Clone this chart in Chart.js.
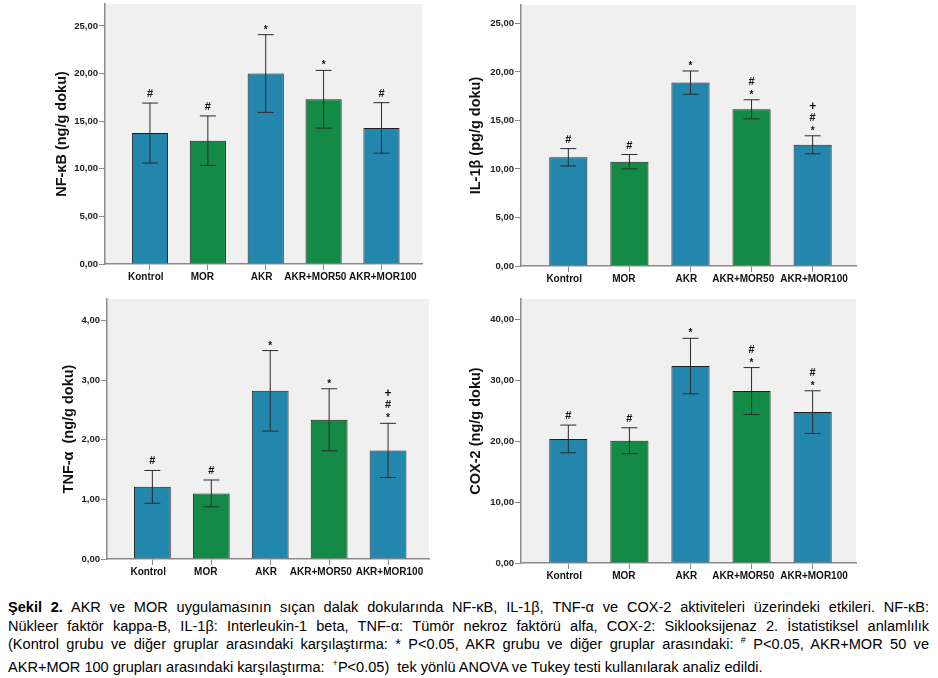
<!DOCTYPE html>
<html><head><meta charset="utf-8">
<script src="https://cdn.jsdelivr.net/npm/chart.js@4.4.1/dist/chart.umd.min.js"></script>
<style>
body{margin:0;background:#fff;width:938px;height:678px;position:relative;overflow:hidden}
canvas{position:absolute}
.cap{position:absolute;left:8px;width:921px;font-family:"Liberation Sans",Arial,sans-serif;font-size:14.55px;line-height:16px;color:#000;white-space:nowrap}
.j{text-align:justify;text-align-last:justify}
sup{font-size:9px;vertical-align:6px;line-height:0}
</style></head><body>

<div class="cap j" style="top:599px"><b>Şekil 2.</b> AKR ve MOR uygulamasının sıçan dalak dokularında NF-κB, IL-1β, TNF-α ve COX-2 aktiviteleri üzerindeki etkileri. NF-κB:</div>
<div class="cap j" style="top:618px">Nükleer faktör kappa-B, IL-1β: Interleukin-1 beta, TNF-α: Tümör nekroz faktörü alfa, COX-2: Siklooksijenaz 2. İstatistiksel anlamlılık</div>
<div class="cap j" style="top:636px">(Kontrol grubu ve diğer gruplar arasındaki karşılaştırma: * P&lt;0.05, AKR grubu ve diğer gruplar arasındaki: <sup>#</sup> P&lt;0.05, AKR+MOR 50 ve</div>
<div class="cap" style="top:659px">AKR+MOR 100 grupları arasındaki karşılaştırma: &nbsp;<sup>+</sup>P&lt;0.05) &nbsp;tek yönlü ANOVA ve Tukey testi kullanılarak analiz edildi.</div>

<script>
// ---- data ----
const categories = ['Kontrol', 'MOR', 'AKR', 'AKR+MOR50', 'AKR+MOR100'];

const nfkbMean = [13.75, 12.95, 20.0, 17.3, 14.29];
const nfkbSd   = [3.15, 2.6, 4.08, 3.03, 2.65];
const nfkbMarks = [['#'], ['#'], ['*'], ['*'], ['#']];
const nfkbTicks = [0, 5, 10, 15, 20, 25];

const il1bMean = [11.2, 10.75, 18.9, 16.15, 12.49];
const il1bSd   = [0.9, 0.74, 1.2, 0.98, 0.93];
const il1bMarks = [['#'], ['#'], ['*'], ['#', '*'], ['+', '#', '*']];
const il1bTicks = [0, 5, 10, 15, 20, 25];

const tnfMean = [1.21, 1.1, 2.82, 2.335, 1.82];
const tnfSd   = [0.275, 0.225, 0.675, 0.52, 0.455];
const tnfMarks = [['#'], ['#'], ['*'], ['*'], ['+', '#', '*']];
const tnfTicks = [0, 1, 2, 3, 4];

const coxMean = [20.35, 20.05, 32.3, 28.2, 24.75];
const coxSd   = [2.27, 2.13, 4.55, 3.85, 3.5];
const coxMarks = [['#'], ['#'], ['*'], ['#', '*'], ['#', '*']];
const coxTicks = [0, 10, 20, 30, 40];

// ---- styles ----
const BLUE = '#2387ad', GREEN = '#138a46';
const barColors = categories.map((c, i) => i % 2 === 0 ? BLUE : GREEN);
const AXIS = '#8a8a8a';
const TITLE_SIZE = 14.5;
const FONT = '"Liberation Sans", Arial, sans-serif';
// label nudge (in spaces): negative = trailing spaces (shift left), positive = leading spaces
const labelNudge = [-3, -4, -3, -6, 1];

function fmt(v) { return v.toFixed(2).replace('.', ','); }
function nudged(i) {
  const n = labelNudge[i], s = ' '.repeat(Math.abs(n));
  return n < 0 ? categories[i] + s : s + categories[i];
}

function makeChart(p) {
  const [cl, ct, cw, ch] = p.canvas;
  const [al, at, ar, ab] = p.area;
  const cv = document.createElement('canvas');
  cv.width = cw; cv.height = ch;
  cv.style.left = cl + 'px'; cv.style.top = ct + 'px';
  cv.style.width = cw + 'px'; cv.style.height = ch + 'px';
  document.body.appendChild(cv);
  const padLeft = p.titleX - cl - TITLE_SIZE * 0.6;
  const yAxisW = al - cl - padLeft;
  const xAxisH = ct + ch - ab;

  const bgPlugin = {
    id: 'bg',
    beforeDraw(chart) {
      const a = chart.chartArea, c = chart.ctx;
      c.save(); c.fillStyle = '#f0f0f0';
      c.fillRect(a.left, a.top, a.right - a.left, a.bottom - a.top);
      c.restore();
    }
  };
  const errPlugin = {
    id: 'err',
    afterDatasetsDraw(chart) {
      const c = chart.ctx, xs = chart.scales.x, ys = chart.scales.y;
      c.save();
      p.mean.forEach((m, i) => {
        const x = xs.getPixelForValue(i);
        const yt = ys.getPixelForValue(m + p.sd[i]);
        const yb = ys.getPixelForValue(m - p.sd[i]);
        c.strokeStyle = '#2a2a2a'; c.lineWidth = 1;
        c.beginPath();
        c.moveTo(x, yt); c.lineTo(x, yb);
        c.moveTo(x - 8, yt); c.lineTo(x + 8, yt);
        c.moveTo(x - 8, yb); c.lineTo(x + 8, yb);
        c.stroke();
        // significance marks
        const marks = p.marks[i];
        let yc = yt - (marks[marks.length - 1] === '*' ? 7.5 : 10);
        c.fillStyle = '#111';
        c.textAlign = 'center';
        c.textBaseline = 'alphabetic';
        for (let k = marks.length - 1; k >= 0; k--) {
          const t = marks[k];
          const size = t === '*' ? 10 : (t === '+' ? 12 : 11);
          c.font = 'bold ' + size + 'px ' + FONT;
          const mt = c.measureText(t);
          const asc = mt.actualBoundingBoxAscent, desc = mt.actualBoundingBoxDescent;
          c.fillText(t, x, yc + (asc - desc) / 2);
          yc -= 11.5;
        }
      });
      c.restore();
    }
  };

  return new Chart(cv, {
    type: 'bar',
    data: {
      datasets: [{
        data: p.mean.map((v, i) => ({ x: i, y: v })),
        backgroundColor: barColors,
        borderColor: '#1e1e1e',
        borderWidth: 1,
        barPercentage: 0.625,
        categoryPercentage: 1
      }]
    },
    options: {
      responsive: false,
      animation: false,
      layout: { padding: { left: padLeft, top: at - ct, right: cl + cw - ar, bottom: 0 } },
      plugins: { legend: { display: false }, tooltip: { enabled: false } },
      scales: {
        x: {
          type: 'linear',
          offset: false,
          bounds: 'data',
          min: p.xr[0], max: p.xr[1],
          afterBuildTicks: s => { s.ticks = categories.map((c, i) => ({ value: i })); },
          afterFit: s => { s.height = xAxisH; s.paddingLeft = 0; s.paddingRight = 0; },
          ticks: {
            callback: v => nudged(v),
            autoSkip: false, maxRotation: 0, padding: 1,
            color: '#111',
            font: { family: FONT, size: 10, weight: 'bold' }
          },
          grid: { offset: false, drawOnChartArea: false, drawTicks: true, tickLength: 6, color: AXIS, tickWidth: 1 },
          border: { display: true, color: AXIS, width: 1.5 }
        },
        y: {
          min: 0, max: p.ymax,
          afterBuildTicks: s => { s.ticks = p.ticks.map(v => ({ value: v })); },
          afterFit: s => { s.width = yAxisW; s.paddingTop = 0; s.paddingBottom = 0; },
          ticks: {
            callback: v => fmt(v),
            padding: 1, color: '#222',
            font: { family: FONT, size: 9.5, weight: 'bold' }
          },
          grid: { drawOnChartArea: false, drawTicks: true, tickLength: 6, color: AXIS, tickWidth: 1 },
          border: { display: true, color: AXIS, width: 1.5 },
          title: {
            display: true, text: p.title, padding: 0, color: '#111',
            font: { family: FONT, size: TITLE_SIZE, weight: 'bold' }
          }
        }
      }
    },
    plugins: [bgPlugin, errPlugin]
  });
}

makeChart({ canvas: [0, 0, 465, 290], area: [105, 4, 422, 264], xr: [-0.777, 4.70], titleX: 62,
  ymax: 27.3, ticks: nfkbTicks, mean: nfkbMean, sd: nfkbSd, marks: nfkbMarks, title: 'NF-κB (ng/g doku)' });
makeChart({ canvas: [465, 0, 473, 290], area: [521, 5, 856, 266], xr: [-0.775, 4.71], titleX: 476,
  ymax: 26.9, ticks: il1bTicks, mean: il1bMean, sd: il1bSd, marks: il1bMarks, title: 'IL-1β (pg/g doku)' });
makeChart({ canvas: [0, 290, 465, 300], area: [107, 299, 429, 559], xr: [-0.77, 4.695], titleX: 69,
  ymax: 4.36, ticks: tnfTicks, mean: tnfMean, sd: tnfSd, marks: tnfMarks, title: 'TNF-α  (ng/g doku)' });
makeChart({ canvas: [465, 290, 473, 300], area: [521, 299, 856, 563], xr: [-0.775, 4.71], titleX: 476,
  ymax: 43.3, ticks: coxTicks, mean: coxMean, sd: coxSd, marks: coxMarks, title: 'COX-2 (ng/g doku)' });
</script>
</body></html>
